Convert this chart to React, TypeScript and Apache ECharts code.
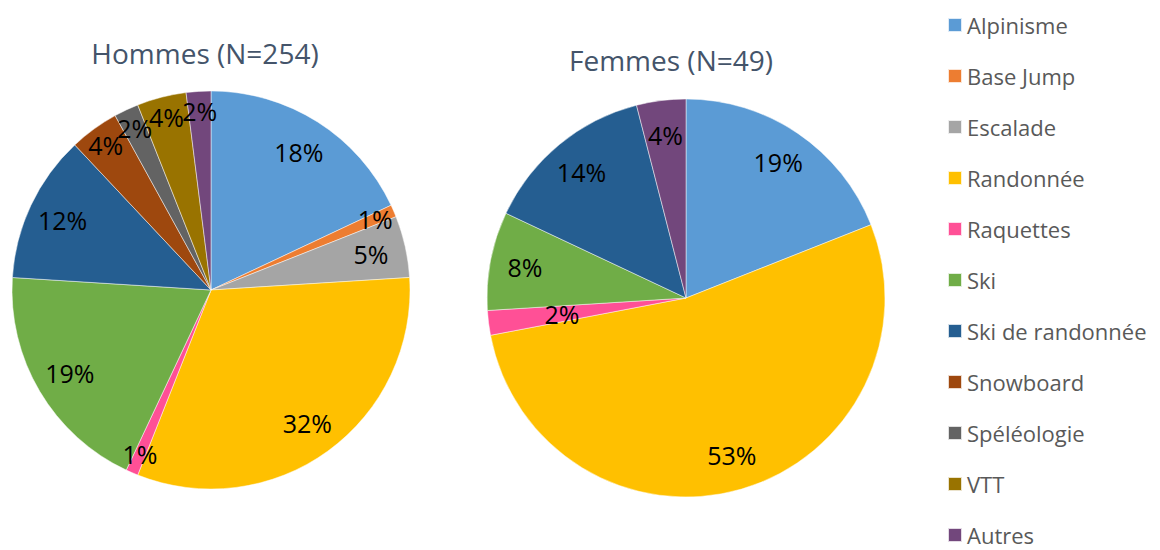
import React, { useEffect, useRef } from "react";
import * as echarts from "echarts";

const categories = [
  "Alpinisme",
  "Base Jump",
  "Escalade",
  "Randonnée",
  "Raquettes",
  "Ski",
  "Ski de randonnée",
  "Snowboard",
  "Spéléologie",
  "VTT",
  "Autres",
];
const colors = [
  "#5B9BD5",
  "#ED7D31",
  "#A5A5A5",
  "#FFC000",
  "#FF5096",
  "#70AD47",
  "#255E91",
  "#9E480E",
  "#636363",
  "#997300",
  "#72477C",
];
const hommesValues = [18, 1, 5, 32, 1, 19, 12, 4, 2, 4, 2];
const femmesCategories = ["Alpinisme", "Randonnée", "Raquettes", "Ski", "Ski de randonnée", "Autres"];
const femmesValues = [19, 53, 2, 8, 14, 4];
const titles = ["Hommes (N=254)", "Femmes (N=49)"];

const FONT = "'Open Sans', 'Noto Sans', sans-serif";

function colorOf(name: string) {
  return colors[categories.indexOf(name)];
}

function overlaySeries(values: number[], center: number[], r0: number, r: number, show: (v: number) => boolean) {
  return {
    type: "pie",
    center,
    radius: [r0, r],
    startAngle: 90,
    clockwise: true,
    avoidLabelOverlap: false,
    silent: true,
    itemStyle: { color: "rgba(0,0,0,0)" },
    labelLayout: { hideOverlap: false },
    label: {
      show: true,
      position: "inside",
      formatter: "{c}%",
      color: "#000000",
      fontFamily: FONT,
      fontSize: 25,
    },
    labelLine: { show: false },
    data: values.map((v) => ({ value: v, label: { show: show(v) } })),
  };
}

function buildPies(
  names: string[],
  values: number[],
  center: number[],
  radius: number,
  smallR: number,
  threshold: number
) {
  const main = {
    type: "pie",
    center,
    radius,
    startAngle: 90,
    clockwise: true,
    avoidLabelOverlap: false,
    silent: true,
    label: { show: false },
    labelLine: { show: false },
    itemStyle: { borderColor: "rgba(255,255,255,0.8)", borderWidth: 0.6 },
    data: names.map((n, i) => ({ name: n, value: values[i], itemStyle: { color: colorOf(n) } })),
  };
  return [
    main,
    overlaySeries(values, center, radius - 76, radius, (v) => v >= threshold),
    overlaySeries(values, center, 2 * smallR - radius, radius, (v) => v < threshold),
  ];
}

export default function App() {
  const ref = useRef<HTMLDivElement>(null);
  useEffect(() => {
    document.body.style.margin = "0";
    const chart = echarts.init(ref.current!, null, { renderer: "svg" });
    chart.setOption({
      animation: false,
      backgroundColor: "#ffffff",
      title: [
        {
          text: titles[0],
          left: 200,
          top: 48,
          textAlign: "center",
          textVerticalAlign: "middle",
          textStyle: { fontFamily: FONT, fontSize: 28, fontWeight: "normal", color: "#44546A" },
        },
        {
          text: titles[1],
          left: 666,
          top: 55,
          textAlign: "center",
          textVerticalAlign: "middle",
          textStyle: { fontFamily: FONT, fontSize: 28, fontWeight: "normal", color: "#44546A" },
        },
      ],
      legend: {
        orient: "vertical",
        left: 947,
        top: 13,
        padding: 0,
        itemWidth: 14,
        itemHeight: 14,
        itemGap: 27,
        icon: "rect",
        data: categories,
        selectedMode: false,
        textStyle: { fontFamily: FONT, fontSize: 22, color: "#595959", lineHeight: 24 },
      },
      series: [
        ...buildPies(categories, hommesValues, [211, 290], 199, 176, 5),
        ...buildPies(femmesCategories, femmesValues, [686, 298], 199, 122, 3),
      ],
    });
    return () => chart.dispose();
  }, []);
  return <div ref={ref} style={{ width: 1160, height: 550 }} />;
}
